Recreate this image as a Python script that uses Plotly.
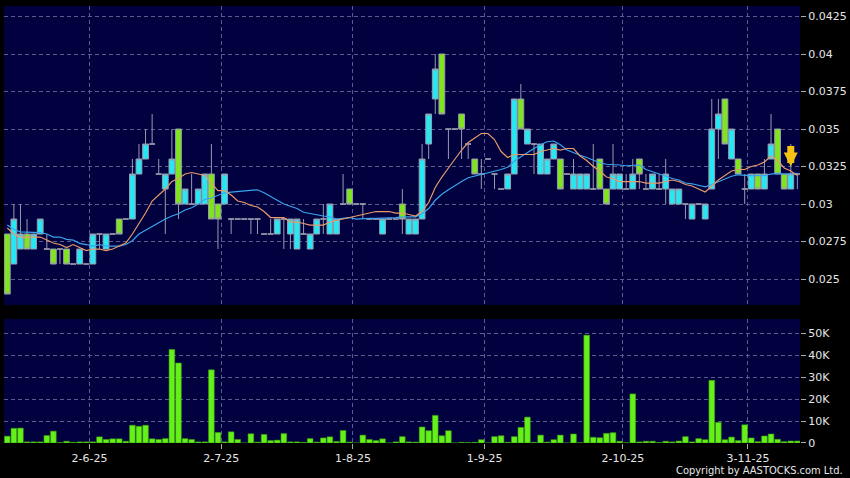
import pandas as pd
import plotly.graph_objects as go

# ---------------- data ----------------
open_ = [0.028, 0.026, 0.027, 0.028, 0.027, 0.028, 0.027, 0.027, 0.027, 0.027,
         0.026, 0.026, 0.026, 0.026, 0.028, 0.027, 0.028, 0.029, 0.029, 0.029,
         0.032, 0.033, 0.034, 0.032, 0.031, 0.032, 0.035, 0.030, 0.030, 0.030,
         0.030, 0.032, 0.030, 0.030, 0.029, 0.029, 0.029, 0.029, 0.029, 0.028,
         0.028, 0.028, 0.029, 0.028, 0.027, 0.028, 0.027, 0.028, 0.029, 0.028,
         0.028, 0.030, 0.031, 0.030, 0.030, 0.029, 0.029, 0.028, 0.029, 0.029,
         0.030, 0.028, 0.028, 0.029, 0.034, 0.037, 0.040, 0.035, 0.035, 0.036,
         0.034, 0.033, 0.032, 0.033, 0.032, 0.031, 0.031, 0.032, 0.037, 0.034,
         0.034, 0.032, 0.032, 0.033, 0.033, 0.032, 0.031, 0.031, 0.031, 0.031,
         0.033, 0.031, 0.031, 0.031, 0.031, 0.031, 0.033, 0.031, 0.031, 0.031,
         0.031, 0.030, 0.030, 0.030, 0.029, 0.030, 0.029, 0.031, 0.035, 0.037,
         0.033, 0.033, 0.031, 0.031, 0.032, 0.031, 0.033, 0.035, 0.032, 0.031,
         0.032]
high = [0.028, 0.030, 0.030, 0.029, 0.028, 0.029, 0.028, 0.027, 0.027, 0.027,
        0.026, 0.027, 0.026, 0.028, 0.028, 0.028, 0.028, 0.029, 0.029, 0.033,
        0.034, 0.035, 0.036, 0.033, 0.032, 0.035, 0.035, 0.031, 0.032, 0.031,
        0.032, 0.034, 0.030, 0.032, 0.029, 0.029, 0.029, 0.029, 0.029, 0.028,
        0.029, 0.029, 0.029, 0.029, 0.029, 0.029, 0.028, 0.029, 0.030, 0.030,
        0.029, 0.032, 0.031, 0.030, 0.030, 0.029, 0.029, 0.029, 0.029, 0.029,
        0.031, 0.029, 0.029, 0.034, 0.036, 0.040, 0.040, 0.035, 0.035, 0.036,
        0.034, 0.033, 0.033, 0.033, 0.032, 0.031, 0.032, 0.037, 0.038, 0.035,
        0.034, 0.034, 0.033, 0.034, 0.033, 0.032, 0.033, 0.032, 0.032, 0.034,
        0.033, 0.031, 0.034, 0.032, 0.032, 0.033, 0.033, 0.032, 0.032, 0.032,
        0.033, 0.031, 0.031, 0.030, 0.030, 0.030, 0.030, 0.037, 0.037, 0.037,
        0.035, 0.033, 0.032, 0.032, 0.032, 0.033, 0.036, 0.035, 0.032, 0.034,
        0.032]
low = [0.024, 0.026, 0.027, 0.027, 0.027, 0.028, 0.027, 0.026, 0.026, 0.026,
       0.026, 0.026, 0.026, 0.026, 0.027, 0.027, 0.028, 0.028, 0.029, 0.029,
       0.032, 0.033, 0.034, 0.032, 0.028, 0.032, 0.029, 0.030, 0.030, 0.030,
       0.030, 0.029, 0.027, 0.030, 0.028, 0.029, 0.029, 0.028, 0.028, 0.028,
       0.028, 0.028, 0.027, 0.027, 0.027, 0.028, 0.027, 0.028, 0.028, 0.028,
       0.028, 0.030, 0.030, 0.030, 0.029, 0.029, 0.029, 0.028, 0.029, 0.029,
       0.028, 0.028, 0.028, 0.029, 0.033, 0.036, 0.036, 0.033, 0.035, 0.033,
       0.033, 0.032, 0.031, 0.033, 0.031, 0.031, 0.031, 0.032, 0.035, 0.034,
       0.032, 0.032, 0.032, 0.033, 0.031, 0.032, 0.031, 0.031, 0.031, 0.031,
       0.031, 0.030, 0.031, 0.031, 0.031, 0.031, 0.031, 0.031, 0.031, 0.031,
       0.030, 0.030, 0.030, 0.029, 0.029, 0.030, 0.029, 0.031, 0.033, 0.034,
       0.033, 0.032, 0.030, 0.031, 0.031, 0.031, 0.033, 0.032, 0.031, 0.031,
       0.031]
close = [0.024, 0.029, 0.028, 0.027, 0.028, 0.029, 0.027, 0.026, 0.027, 0.026,
         0.026, 0.027, 0.026, 0.028, 0.028, 0.028, 0.028, 0.028, 0.029, 0.032,
         0.033, 0.034, 0.034, 0.032, 0.032, 0.033, 0.030, 0.031, 0.030, 0.031,
         0.032, 0.029, 0.029, 0.032, 0.029, 0.029, 0.029, 0.029, 0.029, 0.028,
         0.028, 0.029, 0.029, 0.029, 0.029, 0.028, 0.028, 0.029, 0.029, 0.030,
         0.029, 0.030, 0.030, 0.030, 0.030, 0.029, 0.029, 0.029, 0.029, 0.029,
         0.029, 0.029, 0.029, 0.033, 0.036, 0.039, 0.036, 0.035, 0.035, 0.035,
         0.034, 0.032, 0.032, 0.033, 0.032, 0.031, 0.032, 0.037, 0.035, 0.035,
         0.034, 0.034, 0.033, 0.034, 0.031, 0.032, 0.032, 0.032, 0.032, 0.031,
         0.031, 0.030, 0.032, 0.032, 0.031, 0.032, 0.032, 0.031, 0.032, 0.031,
         0.032, 0.031, 0.031, 0.030, 0.030, 0.030, 0.030, 0.035, 0.036, 0.034,
         0.035, 0.032, 0.031, 0.032, 0.031, 0.032, 0.034, 0.032, 0.031, 0.032,
         0.032]
volume_k = [3.1, 6.7, 6.8, 0.5, 0.5, 0.5, 3.4, 5.4, 0.2, 0.8,
            0.3, 0.5, 0.5, 0.5, 2.8, 1.6, 1.9, 1.9, 0.8, 8.1,
            7.6, 8.1, 1.9, 1.6, 2.0, 42.7, 36.5, 2.0, 1.6, 0.5,
            0.5, 33.4, 4.8, 0.5, 5.1, 1.6, 0.0, 4.2, 0.4, 3.9,
            1.1, 1.3, 4.3, 0.5, 0.5, 0.3, 2.0, 0.4, 2.3, 2.8,
            0.7, 5.7, 0.4, 0.0, 3.6, 1.6, 1.1, 1.9, 0.0, 0.5,
            2.9, 0.5, 0.4, 7.3, 5.6, 12.6, 3.3, 5.6, 0.0, 0.3,
            0.2, 0.3, 1.5, 0.0, 2.9, 3.3, 0.3, 2.9, 7.1, 11.8,
            0.3, 3.6, 0.4, 1.5, 3.6, 0.0, 4.1, 0.1, 49.2, 2.6,
            2.4, 4.4, 4.7, 0.8, 0.1, 22.4, 0.5, 0.8, 0.8, 0.2,
            0.8, 0.5, 0.9, 2.9, 0.5, 2.0, 1.5, 28.6, 9.4, 1.5,
            2.7, 1.1, 8.3, 2.3, 0.6, 3.2, 4.1, 1.7, 0.6, 0.9,
            0.9]
# moving-average values before a full window is available
ma10_lead = [0.0284, 0.0280, 0.0278, 0.0278, 0.0278, 0.0278, 0.0276, 0.0274, 0.0273]
ma20_lead = [0.0286, 0.0283, 0.02815, 0.02815, 0.02815, 0.0281, 0.0280, 0.0278, 0.0278,
             0.02765, 0.0276, 0.02738, 0.0273, 0.0272, 0.0273, 0.0272, 0.0272, 0.0272,
             0.0273]
month_start_idx = [13, 33, 53, 73, 94, 113]
month_labels = ["2-6-25", "2-7-25", "1-8-25", "1-9-25", "2-10-25", "3-11-25"]
price_ticks = [0.025, 0.0275, 0.03, 0.0325, 0.035, 0.0375, 0.04, 0.0425]
price_tick_text = ["0.025", "0.0275", "0.03", "0.0325", "0.035", "0.0375", "0.04", "0.0425"]
vol_ticks = [0, 10000, 20000, 30000, 40000, 50000]
vol_tick_text = ["0", "10K", "20K", "30K", "40K", "50K"]
arrow_idx = 119
arrow_price = 0.0325

# ---------------- styling ----------------
BG = "#000000"
PANEL = "#01013f"
GRID = "#5c5c8c"
TXT = "#e6e6e6"
CYAN = "#26e8f2"
GREEN = "#7fe61e"
WICK = "#9a9aae"
VOLC = "#66f01a"
FONT = "DejaVu Sans"

n = len(close)
idx = list(range(n))

def pick(cond):
    ii = [i for i in idx if cond(i)]
    return (ii, [open_[i] for i in ii], [high[i] for i in ii],
            [low[i] for i in ii], [close[i] for i in ii])

up = pick(lambda i: close[i] > open_[i])
dn = pick(lambda i: close[i] < open_[i])
flat = pick(lambda i: close[i] == open_[i])

s = pd.Series(close)
ma10 = s.rolling(10).mean().tolist()
ma20 = s.rolling(20).mean().tolist()
ma10[:len(ma10_lead)] = ma10_lead
ma20[:len(ma20_lead)] = ma20_lead

fig = go.Figure()

def candle(data, col):
    x, o, h, l, c = data
    return go.Candlestick(
        x=x, open=o, high=h, low=l, close=c, xaxis="x", yaxis="y",
        increasing=dict(fillcolor=col, line=dict(color=WICK, width=1)),
        decreasing=dict(fillcolor=col, line=dict(color=WICK, width=1)),
        whiskerwidth=0, showlegend=False, hoverinfo="skip")

fig.add_trace(candle(flat, WICK))
fig.add_trace(candle(up, CYAN))
fig.add_trace(candle(dn, GREEN))

fig.add_trace(go.Scatter(x=idx, y=ma20, mode="lines", line=dict(color="#3aa4ee", width=1.2),
                         xaxis="x", yaxis="y", showlegend=False, hoverinfo="skip"))
fig.add_trace(go.Scatter(x=idx, y=ma10, mode="lines", line=dict(color="#e89a6a", width=1.2),
                         xaxis="x", yaxis="y", showlegend=False, hoverinfo="skip"))

fig.add_trace(go.Bar(x=idx, y=[v * 1000 for v in volume_k], xaxis="x2", yaxis="y2",
                     marker=dict(color=VOLC, line=dict(color="#3c9e12", width=0.6)),
                     showlegend=False, hoverinfo="skip"))

grid_pos = [m - 0.5 for m in month_start_idx]
xr = [-0.5, n - 0.6]

common_x = dict(range=xr, showgrid=True, gridcolor=GRID, griddash="4px,3px", gridwidth=1,
                zeroline=False, showline=False, tickvals=grid_pos)

fig.update_layout(
    width=850, height=478,
    paper_bgcolor=BG, plot_bgcolor=PANEL,
    margin=dict(l=4, r=50, t=6, b=35, autoexpand=False),
    font=dict(family=FONT, size=11, color=TXT),
    boxgap=0.12, boxgroupgap=0, bargap=0.14,
    xaxis=dict(domain=[0, 1], anchor="y", showticklabels=False, ticks="",
               rangeslider=dict(visible=False), **common_x),
    xaxis2=dict(domain=[0, 1], anchor="y2", matches="x", ticktext=month_labels,
                ticks="outside", ticklen=5, tickcolor="#aaaaaa",
                tickfont=dict(family=FONT, size=11, color=TXT), **common_x),
    yaxis=dict(domain=[0.3158, 1], anchor="x", side="right", range=[0.02327, 0.0432],
               tickvals=price_ticks, ticktext=price_tick_text, ticks="outside", ticklen=5,
               tickcolor="#aaaaaa", showgrid=True, gridcolor=GRID, griddash="4px,3px",
               zeroline=False, showline=False, tickfont=dict(family=FONT, size=11, color=TXT)),
    yaxis2=dict(domain=[0, 0.2838], anchor="x2", side="right", range=[0, 56600],
                tickvals=vol_ticks, ticktext=vol_tick_text, ticks="outside", ticklen=5,
                tickcolor="#aaaaaa", showgrid=True, gridcolor=GRID, griddash="4px,3px",
                zeroline=False, showline=False, tickfont=dict(family=FONT, size=11, color=TXT)),
)

fig.add_annotation(x=arrow_idx, y=arrow_price, xref="x", yref="y", showarrow=True,
                   ax=0, ay=-22, arrowhead=2, arrowsize=0.4, arrowwidth=7,
                   arrowcolor="#f7c312", text="")

fig.add_annotation(x=1.0565, y=-0.064, xref="paper", yref="paper", showarrow=False,
                   xanchor="right", yanchor="middle", text="Copyright by AASTOCKS.com Ltd.",
                   font=dict(family="DejaVu Sans Condensed, Liberation Sans Narrow, DejaVu Sans",
                             size=11, color=TXT))

fig.write_html("out.html", config={"displayModeBar": False, "staticPlot": True},
               post_script="document.body.style.margin='0';document.body.style.overflow='hidden';")
